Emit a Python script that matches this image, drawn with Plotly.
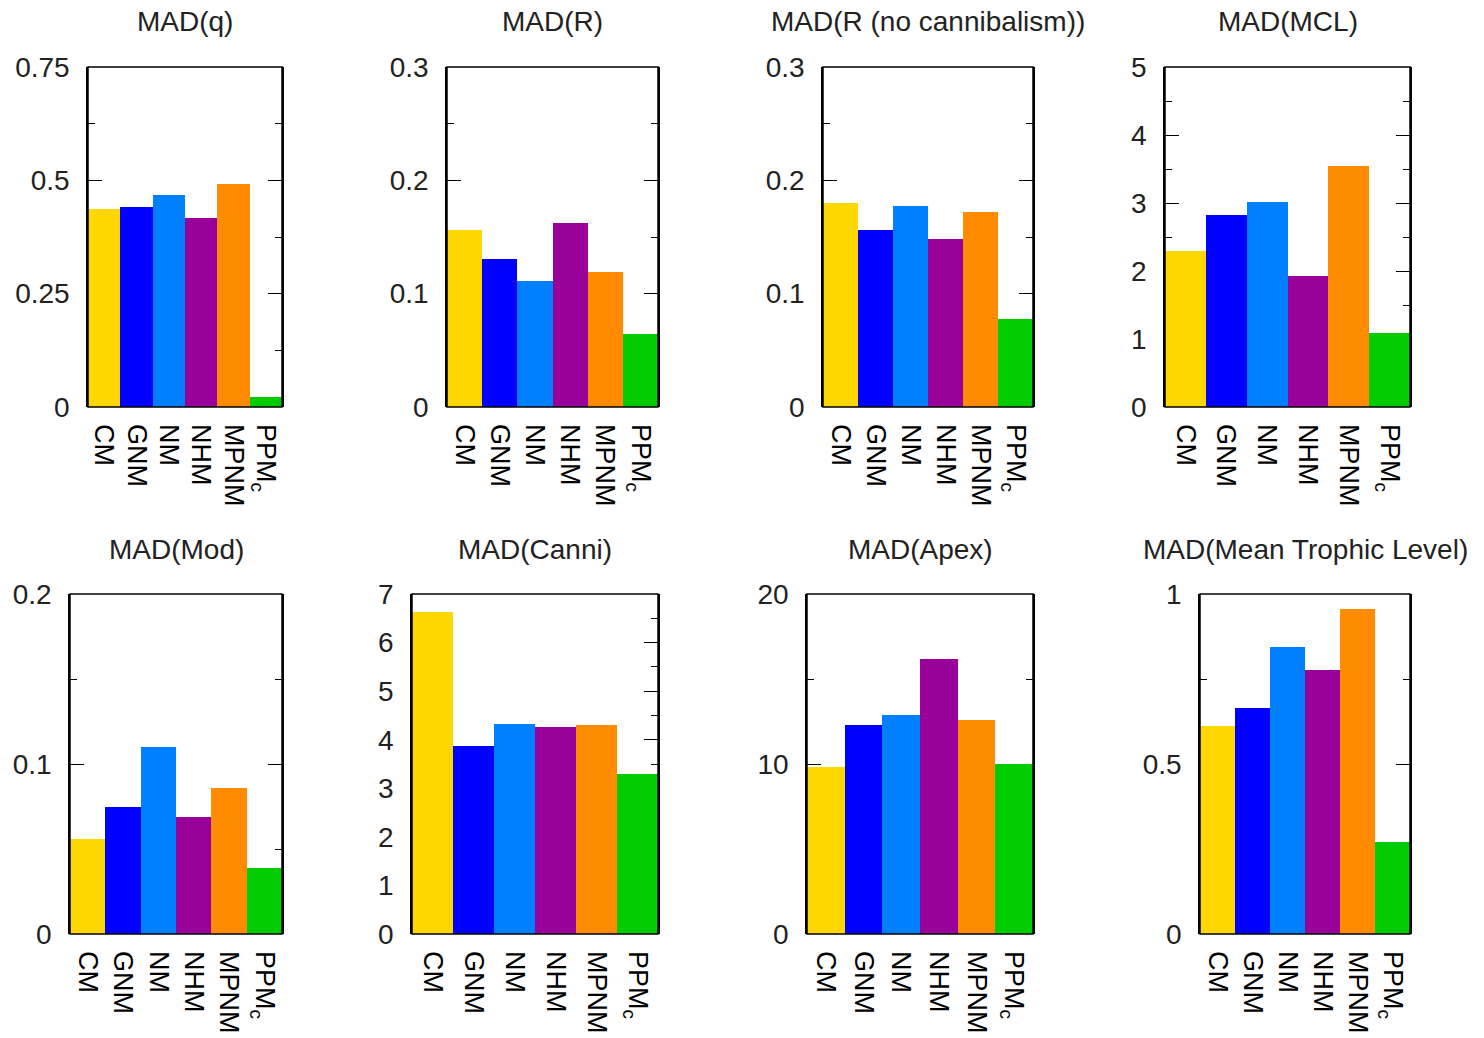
import plotly.graph_objects as go

# ---------------- data ----------------
models = ["CM", "GNM", "NM", "NHM", "MPNM", "PPM<sub>c</sub>"]
colors = ["#FFD700", "#0000FF", "#0080FF", "#990099", "#FF8C00", "#00CC00"]

titles = ["MAD(q)", "MAD(R)", "MAD(R (no cannibalism))", "MAD(MCL)",
          "MAD(Mod)", "MAD(Canni)", "MAD(Apex)", "MAD(Mean Trophic Level)"]

mad_q = [0.436, 0.441, 0.467, 0.418, 0.493, 0.023]
mad_r = [0.156, 0.131, 0.111, 0.162, 0.119, 0.064]
mad_r_nocanni = [0.180, 0.156, 0.177, 0.148, 0.172, 0.078]
mad_mcl = [2.30, 2.82, 3.01, 1.93, 3.54, 1.09]
mad_mod = [0.056, 0.075, 0.110, 0.069, 0.086, 0.039]
mad_canni = [6.62, 3.88, 4.32, 4.27, 4.31, 3.29]
mad_apex = [9.8, 12.3, 12.9, 16.2, 12.6, 10.0]
mad_mtl = [0.611, 0.666, 0.843, 0.776, 0.956, 0.271]

values = [mad_q, mad_r, mad_r_nocanni, mad_mcl, mad_mod, mad_canni, mad_apex, mad_mtl]
y_max = [0.75, 0.3, 0.3, 5, 0.2, 7, 20, 1]
y_major = [0.25, 0.1, 0.1, 1, 0.1, 1, 10, 0.5]

# ---------------- layout (pixel boxes of plot areas, page coordinates) ----------------
PAGE_W, PAGE_H = 1484, 1038
OFF = 8  # default body margin of the html page
W, H = PAGE_W - OFF, PAGE_H - OFF
boxes = [  # x0, x1, ytop, ybottom
    (88, 282, 67, 407), (447, 658, 67, 407), (823, 1033, 67, 407), (1165, 1410, 67, 407),
    (70, 282, 594, 934), (412, 658, 594, 934), (807, 1033, 594, 934), (1200, 1410, 594, 934),
]
title_y = [22, 22, 22, 22, 549, 549, 549, 549]

FONT = "Liberation Sans, Arial, Helvetica, sans-serif"
FS = 28
FS_X = 27

fig = go.Figure()
layout = dict(
    template="none",
    width=W, height=H, margin=dict(l=0, r=0, t=0, b=0, pad=0, autoexpand=False),
    paper_bgcolor="white", plot_bgcolor="white",
    showlegend=False, bargap=0,
    font=dict(family=FONT, size=FS, color="black"),
)
shapes = []
annotations = []

for i, (vals, title) in enumerate(zip(values, titles)):
    n = i + 1
    xa = "x" if n == 1 else f"x{n}"
    ya = "y" if n == 1 else f"y{n}"
    xkey = "xaxis" if n == 1 else f"xaxis{n}"
    ykey = "yaxis" if n == 1 else f"yaxis{n}"
    x0, x1, yt, yb = [v - OFF for v in boxes[i]]
    fig.add_trace(go.Bar(
        x=models, y=vals, marker=dict(color=colors, line=dict(width=0)),
        xaxis=xa, yaxis=ya, hoverinfo="x+y",
    ))
    layout[xkey] = dict(
        domain=[x0 / W, x1 / W], anchor=ya, type="category", automargin=False,
        range=[-0.5, 5.5], showgrid=False, zeroline=False,
        ticks="", showline=False, tickangle=90,
        tickfont=dict(family=FONT, size=FS_X, color="black"),
        ticklabelstandoff=16, layer="below traces",
    )
    layout[ykey] = dict(
        domain=[1 - yb / H, 1 - yt / H], anchor=xa, automargin=False,
        range=[0, y_max[i]], dtick=y_major[i], tick0=0,
        showgrid=False, zeroline=False,
        ticks="inside", ticklen=14, tickwidth=1, tickcolor="black",
        minor=dict(dtick=y_major[i] / 2, ticks="inside", ticklen=7,
                   tickwidth=1, tickcolor="black", showgrid=False),
        showline=True, linecolor="black", linewidth=1.5, mirror="ticks",
        tickfont=dict(family=FONT, size=FS, color="#222222"),
        ticklabelstandoff=11, layer="below traces",
    )
    shapes.append(dict(
        type="rect", xref=f"{xa} domain", yref=f"{ya} domain",
        x0=0, x1=1, y0=0, y1=1, line=dict(color="black", width=1.5),
        fillcolor="rgba(0,0,0,0)", layer="above",
    ))
    annotations.append(dict(
        text=title, xref="paper", yref="paper",
        x=(x0 + x1) / 2 / W, y=1 - (title_y[i] - OFF) / H,
        xanchor="center", yanchor="middle", showarrow=False,
        font=dict(family=FONT, size=FS, color="#222222"),
    ))

layout["shapes"] = shapes
layout["annotations"] = annotations
fig.update_layout(**layout)
fig.write_html("out.html")
